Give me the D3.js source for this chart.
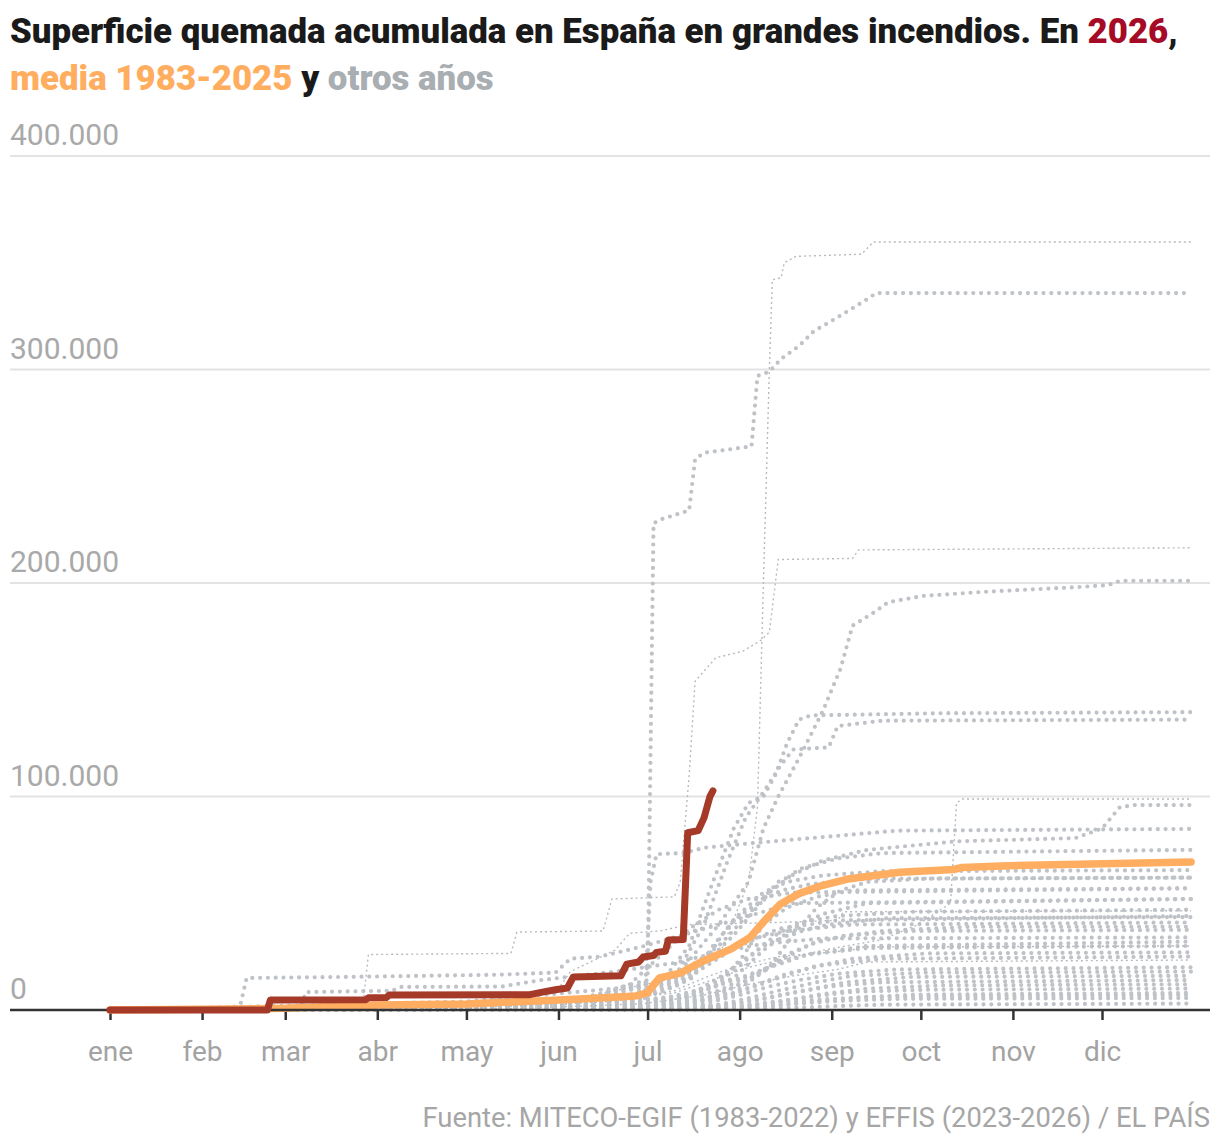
<!DOCTYPE html>
<html>
<head>
<meta charset="utf-8">
<script src="https://cdn.jsdelivr.net/npm/d3@7"></script>
<style>
  body { margin: 0; background: #fff; }
  svg { display: block; font-family: Roboto, "Liberation Sans", sans-serif; }
</style>
</head>
<body>
<div id="chart"></div>
<script>
// dias desde el 1 de enero -> hectareas acumuladas
var monthStarts = [0, 31, 59, 90, 120, 151, 181, 212, 243, 273, 304, 334];
var monthLabels = ['ene', 'feb', 'mar', 'abr', 'may', 'jun', 'jul', 'ago', 'sep', 'oct', 'nov', 'dic'];
var yTicks = [0, 100000, 200000, 300000, 400000];

var serie2026 = [[0,0],[53,0],[54,4700],[86,4800],[87,5700],[93,5800],[94,7000],[141,7100],[146,8500],[150,9500],[154,10300],[156,15500],
  [172,16000],[174,21500],[178,22500],[179.5,24800],[183,25500],[184,27000],[187,27500],[188,32800],[193,33000],[194.5,83000],
  [198,84000],[200,90000],[202,100000],[203,102600]];

var media = [[0,0],[30,300],[59,800],[90,2300],[120,2800],[151,4700],[165,5600],[177,6600],[181,8000],[182,10000],[185,15000],
  [192,17300],[199,22500],[209,28500],[215.5,34000],[220.5,42000],[225.6,49500],[232,54500],[239,58000],[249,61500],[266,64500],
  [284,65800],[287,66800],[300,67500],[364,69300]];

// otros años (puntos gruesos)
var otrosAnios = [
  [[0,0],[120,4000],[170,10000],[181,14000],[182,120000],[183,228000],[186,230000],[195,234000],[197,258000],[200,261000],[216,264000],[218,297000],[222,299000],[226,305000],[232,311000],[237,318000],[242,322000],[248,327000],[255,333000],[258,335800],[364,335800]],
  [[0,0],[150,3000],[190,15000],[205,40000],[215,60000],[220,85000],[225,100000],[232,118000],[240,140000],[246,160000],[250,180000],[257,186000],[262,191000],[274,194000],[296,196000],[325,198000],[336,199000],[340,201000],[364,201000]],
  [[0,0],[150,3000],[185,12000],[195,30000],[203,60000],[210,85000],[215,97000],[220,100000],[224,110000],[228,125000],[232,136000],[236,138000],[280,139000],[364,139500]],
  [[0,0],[160,4000],[190,15000],[200,40000],[208,70000],[214,90000],[220,102000],[226,115000],[230,122000],[242,123000],[245,133000],[260,135500],[364,136000]],
  [[0,0],[150,3000],[190,15000],[205,30000],[215,45000],[225,60000],[240,70000],[255,75000],[270,77000],[285,79000],[325,80500],[334,85000],[340,95000],[345,96000],[364,96000]],
  [[0,0],[150,2000],[180,4000],[182,60000],[184,73000],[193,73500],[200,76000],[215,78000],[240,81000],[265,84000],[364,84800]],
  [[0,0],[165,3000],[195,15000],[210,35000],[222,55000],[232,66000],[245,71000],[260,73500],[364,75000]],
  [[0,0],[120,1500],[175,5000],[190,12000],[200,22000],[206,35000],[212,45000],[220,55000],[228,60000],[240,63000],[260,65000],[364,65500]],
  [[0,0],[140,2000],[185,8000],[196,15000],[203,30000],[210,42000],[218,50000],[226,56000],[236,59000],[255,61500],[364,62000]],
  [[0,0],[180,2000],[210,8000],[222,20000],[230,35000],[238,48000],[246,56000],[255,60000],[275,61500],[364,62000]],
  [[0,0],[150,1500],[190,6000],[205,12000],[213,25000],[220,40000],[228,48000],[238,53000],[250,56000],[364,57000]],
  [[0,0],[130,1500],[160,5000],[175,12000],[185,25000],[195,38000],[205,47000],[215,52000],[230,55000],[364,57000]],
  [[0,0],[40,500],[44,3000],[46,15000],[80,15500],[130,16500],[150,17500],[155,24000],[165,25000],[180,30000],[200,38000],[215,44000],[230,50000],[364,52000]],
  [[0,0],[170,2000],[195,6000],[210,15000],[220,28000],[230,38000],[240,45000],[255,50000],[364,52000]],
  [[0,0],[150,1000],[185,5000],[200,10000],[210,18000],[218,28000],[225,36000],[232,41000],[245,44000],[270,46000],[364,47000]],
  [[0,0],[110,800],[150,3000],[175,7000],[190,14000],[200,22000],[212,30000],[225,38000],[245,42000],[364,44000]],
  [[0,0],[160,2000],[195,7000],[205,15000],[212,22000],[220,30000],[230,36000],[242,40000],[262,43000],[364,43500]],
  [[0,0],[150,2500],[180,6000],[192,12000],[200,20000],[208,27000],[215,33000],[228,37000],[250,40000],[364,41000]],
  [[0,0],[175,1000],[198,4000],[208,9000],[218,17000],[228,26000],[240,33000],[260,37000],[290,39000],[364,39000]],
  [[0,0],[170,1500],[200,5000],[212,12000],[220,18000],[228,25000],[236,31000],[248,35000],[270,37000],[364,37500]],
  [[0,0],[64,500],[66,8400],[95,9000],[98,10800],[132,11000],[145,14000],[170,18000],[190,22000],[205,27000],[220,31000],[240,33500],[364,34000]],
  [[0,0],[155,700],[185,3000],[198,8000],[210,14000],[222,20000],[235,26000],[255,30000],[364,32000]],
  [[0,0],[160,1500],[190,5000],[205,9000],[215,16000],[225,22000],[235,26000],[255,29000],[364,30000]],
  [[0,0],[180,1500],[205,5000],[215,10000],[225,15000],[236,20000],[250,24000],[275,26500],[364,27000]],
  [[0,0],[165,1000],[195,3000],[208,7000],[218,12000],[228,17000],[240,21000],[260,24000],[364,25000]],
  [[0,0],[170,800],[200,3000],[212,7000],[222,11000],[232,14000],[245,17000],[265,19000],[364,20000]],
  [[0,0],[175,600],[205,2500],[215,5500],[225,9000],[238,13000],[250,16000],[275,17500],[364,18000]],
  [[0,0],[190,800],[210,3000],[222,6000],[235,9500],[248,13000],[270,15500],[364,16000]],
  [[0,0],[180,500],[205,2000],[218,4500],[230,8000],[242,11000],[260,13000],[364,14000]],
  [[0,0],[195,600],[215,2000],[228,4500],[240,7500],[255,10000],[280,11500],[364,12000]],
  [[0,0],[185,500],[210,1500],[222,3500],[235,6000],[250,8500],[275,9500],[364,10000]],
  [[0,0],[200,400],[220,1500],[235,3500],[250,5500],[270,7200],[364,8000]],
  [[0,0],[170,300],[195,1000],[215,2500],[235,4500],[255,6200],[364,7000]],
  [[0,0],[190,300],[215,1200],[230,2800],[245,4200],[265,5200],[364,5600]],
  [[0,0],[200,200],[225,800],[240,1600],[260,2500],[364,3000]]
];

// otros años (trazo fino)
var otrosAniosFinos = [
  [[0,0],[100,2000],[160,6000],[190,15000],[205,25000],[215,60000],[218,95000],[220,200000],[222,300000],[223,342000],[226,343000],[227,350000],[231,353000],[253,354000],[257,359700],[364,359700]],
  [[0,0],[85,500],[87,26000],[135,26500],[137,36500],[166,37000],[169,52000],[190,53000],[192,60000],[195,110000],[197,154000],[204,165000],[213,168000],[219,173000],[222,177000],[225,211000],[250,211500],[252,215500],[364,216500]],
  [[0,0],[150,2000],[190,8000],[215,20000],[240,28000],[260,33000],[272,40000],[283,50000],[285,97000],[287,98800],[364,98800]],
  [[0,0],[100,1000],[150,8000],[155,18000],[170,28000],[175,36000],[185,37000],[195,40000],[225,41000],[245,42000],[247,46000],[364,46500]],
  [[0,0],[120,1000],[170,4000],[190,9000],[200,15000],[210,20000],[225,25000],[250,28000],[252,29500],[364,30000]],
  [[0,0],[140,800],[180,3000],[200,7000],[215,12000],[230,16000],[245,19000],[255,22500],[364,23400]]
];

var W = 1220, H = 1148;
var es = d3.formatLocale({decimal: ',', thousands: '.', grouping: [3], currency: ['', ' €']});
var fmt = es.format(',');

var svg = d3.select('#chart').append('svg')
  .attr('width', W)
  .attr('height', H)
  .attr('viewBox', '0 0 ' + W + ' ' + H);

svg.append('rect').attr('width', W).attr('height', H).attr('fill', '#fff');

var x = d3.scaleLinear().domain([0, 334]).range([110, 1102]);
var y = d3.scaleLinear().domain([0, 400000]).range([1010, 156]);

// titulo
var t1 = svg.append('text').attr('x', 10).attr('y', 43)
  .attr('font-weight', 900).attr('fill', '#1a1a1a');
t1.append('tspan').text('Superficie quemada acumulada en España en grandes incendios. En ');
t1.append('tspan').attr('fill', '#a50a26').text('2026');
t1.append('tspan').text(',');

var t2 = svg.append('text').attr('x', 10).attr('y', 90)
  .attr('font-weight', 900).attr('fill', '#1a1a1a');
t2.append('tspan').attr('fill', '#ffad5f').text('media 1983-2025');
t2.append('tspan').text(' y ');
t2.append('tspan').attr('fill', '#a9aeb2').text('otros años');

function fitText(sel, size, target) {
  sel.attr('font-size', size);
  var w = sel.node().getComputedTextLength();
  var s = size * target / w;
  sel.attr('font-size', s);
  return s;
}
var titleSize = fitText(t1, 30, 1168);
t2.attr('font-size', titleSize);

// rejilla
var grid = svg.append('g');
grid.selectAll('line').data(yTicks.filter(function(d) { return d > 0; }))
  .enter().append('line')
  .attr('x1', 10).attr('x2', 1210)
  .attr('y1', function(d) { return y(d); })
  .attr('y2', function(d) { return y(d); })
  .attr('stroke', '#e3e3e3').attr('stroke-width', 2);

grid.selectAll('text').data(yTicks)
  .enter().append('text')
  .attr('x', 10)
  .attr('y', function(d) { return y(d) - 11; })
  .attr('font-size', 30)
  .attr('fill', '#a9a9a9')
  .text(function(d) { return fmt(d); });

// lineas
var line = d3.line()
  .x(function(d) { return x(d[0]); })
  .y(function(d) { return y(d[1]); });

svg.append('g').selectAll('path').data(otrosAnios)
  .enter().append('path')
  .attr('d', line)
  .attr('fill', 'none')
  .attr('stroke', '#bfc3c7')
  .attr('stroke-width', 4.2)
  .attr('stroke-linecap', 'round')
  .attr('stroke-dasharray', '0 7.8');

svg.append('g').selectAll('path').data(otrosAniosFinos)
  .enter().append('path')
  .attr('d', line)
  .attr('fill', 'none')
  .attr('stroke', '#b7bbbf')
  .attr('stroke-width', 1.4)
  .attr('stroke-dasharray', '2 3');

// eje x
var axis = svg.append('g')
  .attr('transform', 'translate(0,' + y(0) + ')')
  .call(d3.axisBottom(x)
    .tickValues(monthStarts)
    .tickFormat(function(d, i) { return monthLabels[i]; })
    .tickSize(10)
    .tickPadding(21));
axis.select('.domain').remove();
axis.selectAll('.tick line').attr('stroke', '#333').attr('stroke-width', 2.5);
axis.selectAll('.tick text')
  .attr('font-family', 'Roboto, sans-serif')
  .attr('font-size', 28)
  .attr('fill', '#a3a3a3');

svg.append('path')
  .datum(media)
  .attr('d', line)
  .attr('fill', 'none')
  .attr('stroke', '#ffad61')
  .attr('stroke-width', 7.5)
  .attr('stroke-linecap', 'round')
  .attr('stroke-linejoin', 'round');

svg.append('line')
  .attr('x1', 10).attr('x2', 1210)
  .attr('y1', y(0)).attr('y2', y(0))
  .attr('stroke', '#333').attr('stroke-width', 2.5);

svg.append('path')
  .datum(serie2026)
  .attr('d', line)
  .attr('fill', 'none')
  .attr('stroke', '#a63a29')
  .attr('stroke-width', 7)
  .attr('stroke-linecap', 'round')
  .attr('stroke-linejoin', 'round');

// fuente
var src = svg.append('text')
  .attr('x', 1210).attr('y', 1127)
  .attr('text-anchor', 'end')
  .attr('fill', '#a6a6a6')
  .text('Fuente: MITECO-EGIF (1983-2022) y EFFIS (2023-2026) / EL PAÍS');
fitText(src, 24, 788);
</script>
</body>
</html>
